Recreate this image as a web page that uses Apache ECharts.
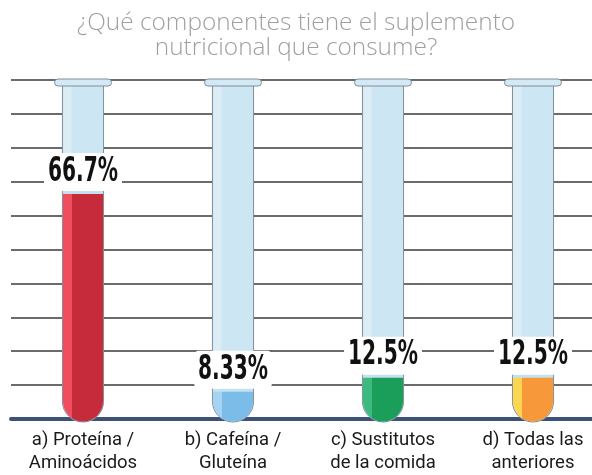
<!DOCTYPE html>
<html>
<head>
<meta charset="utf-8">
<script src="https://cdn.jsdelivr.net/npm/echarts@6/dist/echarts.min.js"></script>
<style>
  html, body { margin: 0; padding: 0; background: #fff; }
  #chart { width: 592px; height: 475px; }
</style>
</head>
<body>
<div id="chart"></div>
<script>
// datos
var categories = ['a) Proteína /\nAminoácidos', 'b) Cafeína /\nGluteína', 'c) Sustitutos\nde la comida', 'd) Todas las\nanteriores'];
var values = [66.7, 8.33, 12.5, 12.5];
var valueLabels = ['66.7%', '8.33%', '12.5%', '12.5%'];
var lightColors = ['#f04e5f', '#a6d3f1', '#3dbb7e', '#fdd64f'];
var darkColors = ['#c62b3b', '#7bbde8', '#1a9e5a', '#f7993a'];

var myChart = echarts.init(document.getElementById('chart'));

// dibuja un tubo de ensayo con su contenido
function renderTube(params, api) {
    var idx = api.value(0);
    var val = api.value(1);
    var x = api.coord([idx, 0])[0];
    var baseY = api.coord([idx, 0])[1];
    var topY = api.coord([idx, 100])[1];
    var fillY = api.coord([idx, val])[1];
    var w = api.size([1, 0])[0] * 0.274;
    var r = w / 2;
    var bottom = baseY + 3;

    return {
        type: 'group',
        children: [
            // cuerpo del tubo
            {
                type: 'rect',
                shape: { x: x - r, y: topY + 4, width: w, height: bottom - topY - 4, r: [0, 0, r, r] },
                style: { fill: '#cde6f3', stroke: '#7f8e98', lineWidth: 1 }
            },
            // brillo
            {
                type: 'rect',
                shape: { x: x - r + 1, y: topY + 6, width: 8, height: bottom - topY - 28 },
                style: { fill: 'rgba(255,255,255,0.3)' }
            },
            // borde superior
            {
                type: 'rect',
                shape: { x: x - 28.5, y: topY - 1, width: 57, height: 7, r: 3.5 },
                style: { fill: '#d3e9f5', stroke: '#7f8e98', lineWidth: 1 }
            },
            // líquido
            {
                type: 'rect',
                shape: { x: x - r + 0.5, y: fillY, width: w - 1, height: bottom - fillY - 0.5, r: [0, 0, r, r] },
                style: {
                    fill: {
                        type: 'linear', x: 0, y: 0, x2: 1, y2: 0,
                        colorStops: [
                            { offset: 0, color: lightColors[idx] },
                            { offset: 0.22, color: lightColors[idx] },
                            { offset: 0.22, color: darkColors[idx] },
                            { offset: 1, color: darkColors[idx] }
                        ]
                    }
                }
            },
            {
                type: 'rect',
                shape: { x: x - r + 0.5, y: fillY - 2, width: w - 1, height: 3 },
                style: { fill: '#c4e1f0' }
            },
            // etiqueta
            {
                type: 'text',
                x: x,
                y: fillY - 21,
                scaleX: 0.66,
                style: {
                    text: valueLabels[idx],
                    font: 'bold 34px "Liberation Sans Narrow", "DejaVu Sans Condensed", sans-serif',
                    fill: '#111',
                    align: 'center',
                    verticalAlign: 'middle',
                    backgroundColor: '#fff',
                    padding: [2, 6, 2, 6],
                    borderRadius: 6
                }
            }
        ]
    };
}

var option = {
    backgroundColor: '#FFFFFF',
    animation: false,
    title: {
        text: '¿Qué componentes tiene el suplemento\nnutricional que consume?',
        left: 'center',
        top: 6,
        textStyle: {
            fontFamily: 'Open Sans',
            fontWeight: 300,
            fontSize: 24.4,
            lineHeight: 25,
            color: '#a0a0a0'
        }
    },
    grid: { left: 11, right: 0, top: 80, bottom: 51 },
    xAxis: {
        type: 'value',
        min: -0.48,
        max: 3.3933,
        splitLine: { show: false },
        axisTick: { show: false },
        axisLine: { onZero: false, lineStyle: { color: '#3d5277', width: 4 } },
        axisLabel: {
            customValues: [0, 1, 2, 3],
            formatter: function (v) { return categories[Math.round(v)]; },
            margin: 10,
            fontFamily: 'Roboto',
            fontSize: 18.5,
            lineHeight: 23,
            color: '#1a1a1a'
        }
    },
    yAxis: {
        type: 'value',
        min: 0,
        max: 100,
        interval: 10,
        axisLabel: { show: false },
        axisLine: { show: false },
        axisTick: { show: false },
        splitLine: { lineStyle: { color: '#6b6b6b', width: 2 } }
    },
    series: [{
        type: 'custom',
        renderItem: renderTube,
        encode: { x: 0, y: 1 },
        data: values.map(function (v, i) { return [i, v]; })
    }]
};

myChart.setOption(option);
</script>
</body>
</html>
